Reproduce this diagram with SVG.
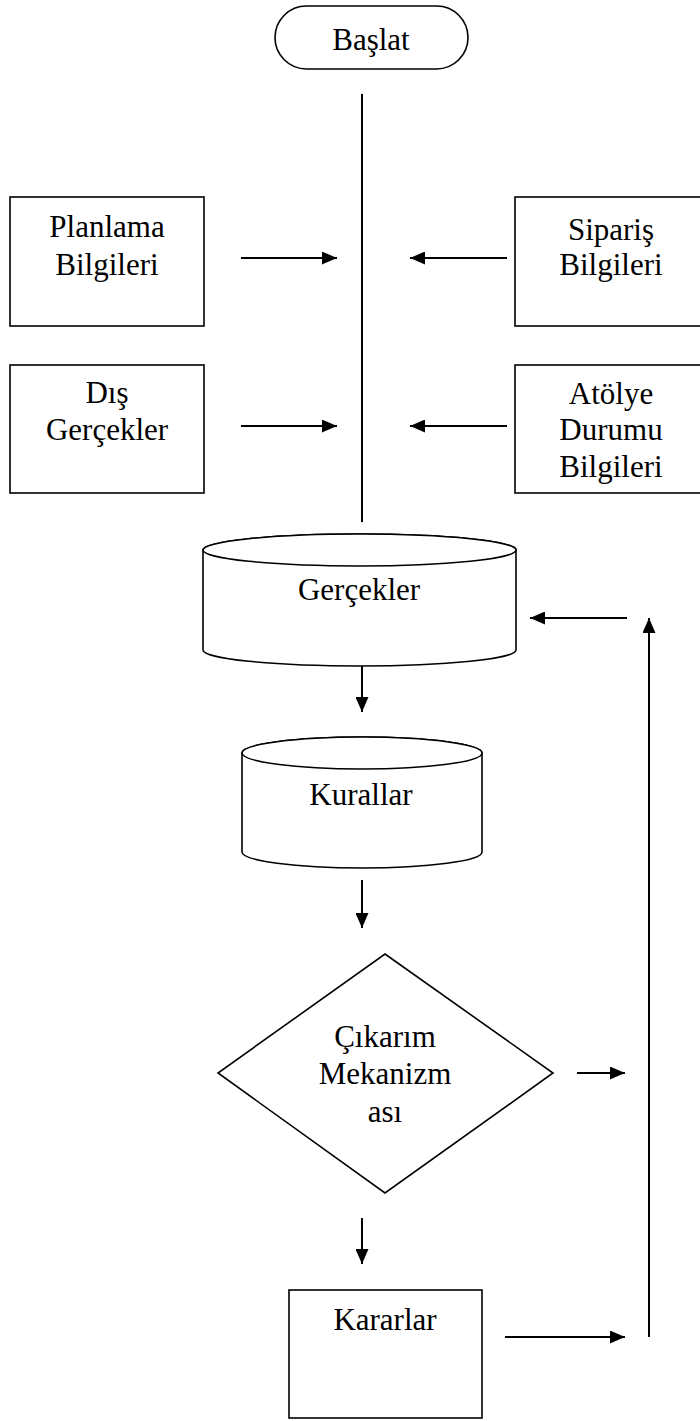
<svg xmlns="http://www.w3.org/2000/svg" width="700" height="1421" viewBox="0 0 700 1421">
<style>
.s{fill:#fff;stroke:#000;stroke-width:1.6}
.t{font-family:"Liberation Serif","Times New Roman",serif;font-size:31px;fill:#000;text-anchor:middle}
.c{fill:none;stroke:#000;stroke-width:2}
</style>
<defs>
<marker id="ah" viewBox="0 0 15 13" refX="15" refY="6.5" markerWidth="15" markerHeight="13" markerUnits="userSpaceOnUse" orient="auto">
<path d="M0,0 L15,6.5 L0,13 z" fill="#000"/>
</marker>
</defs>
<rect width="700" height="1421" fill="#fff"/>
<g id="connectors">
<line class="c" x1="362" y1="94" x2="362" y2="522"/>
<line class="c" x1="241" y1="258" x2="337" y2="258" marker-end="url(#ah)"/>
<line class="c" x1="507" y1="258" x2="410" y2="258" marker-end="url(#ah)"/>
<line class="c" x1="241" y1="426" x2="337" y2="426" marker-end="url(#ah)"/>
<line class="c" x1="507" y1="426" x2="410" y2="426" marker-end="url(#ah)"/>
<line class="c" x1="362" y1="666" x2="362" y2="712" marker-end="url(#ah)"/>
<line class="c" x1="362" y1="880" x2="362" y2="928" marker-end="url(#ah)"/>
<line class="c" x1="362" y1="1218" x2="362" y2="1264" marker-end="url(#ah)"/>
<line class="c" x1="577" y1="1073" x2="625" y2="1073" marker-end="url(#ah)"/>
<line class="c" x1="505" y1="1337" x2="625" y2="1337" marker-end="url(#ah)"/>
<line class="c" x1="649" y1="1337" x2="649" y2="618" marker-end="url(#ah)"/>
<line class="c" x1="627" y1="618" x2="530" y2="618" marker-end="url(#ah)"/>
</g>
<g id="baslat">
<rect class="s" x="275" y="6" width="193" height="63" rx="31.5" ry="31.5"/>
<text class="t" x="371" y="50">Başlat</text>
</g>
<g id="planlama">
<rect class="s" x="10" y="197" width="194" height="129"/>
<text class="t" x="107" y="237">Planlama</text>
<text class="t" x="107" y="275">Bilgileri</text>
</g>
<g id="siparis">
<rect class="s" x="515" y="197" width="194" height="129"/>
<text class="t" x="611" y="240">Sipariş</text>
<text class="t" x="611" y="275">Bilgileri</text>
</g>
<g id="dis">
<rect class="s" x="10" y="365" width="194" height="128"/>
<text class="t" x="107" y="403">Dış</text>
<text class="t" x="107" y="440">Gerçekler</text>
</g>
<g id="atolye">
<rect class="s" x="515" y="365" width="194" height="128"/>
<text class="t" x="611" y="404">Atölye</text>
<text class="t" x="611" y="440">Durumu</text>
<text class="t" x="611" y="477">Bilgileri</text>
</g>
<g id="gercekler">
<path class="s" d="M203,550 L203,650 A156.5,16 0 0 0 516,650 L516,550 A156.5,16 0 0 0 203,550 Z"/>
<ellipse class="s" cx="359.5" cy="550" rx="156.5" ry="16"/>
<text class="t" x="359" y="600">Gerçekler</text>
</g>
<g id="kurallar">
<path class="s" d="M242,753 L242,852 A120,16 0 0 0 482,852 L482,753 A120,16 0 0 0 242,753 Z"/>
<ellipse class="s" cx="362" cy="753" rx="120" ry="16"/>
<text class="t" x="361" y="805">Kurallar</text>
</g>
<g id="cikarim">
<polygon class="s" points="385,954 553,1073 385,1193 218,1073"/>
<text class="t" x="385" y="1047">Çıkarım</text>
<text class="t" x="385" y="1084">Mekanizm</text>
<text class="t" x="385" y="1122">ası</text>
</g>
<g id="kararlar">
<rect class="s" x="289" y="1290" width="193" height="128"/>
<text class="t" x="385" y="1330">Kararlar</text>
</g>
</svg>
